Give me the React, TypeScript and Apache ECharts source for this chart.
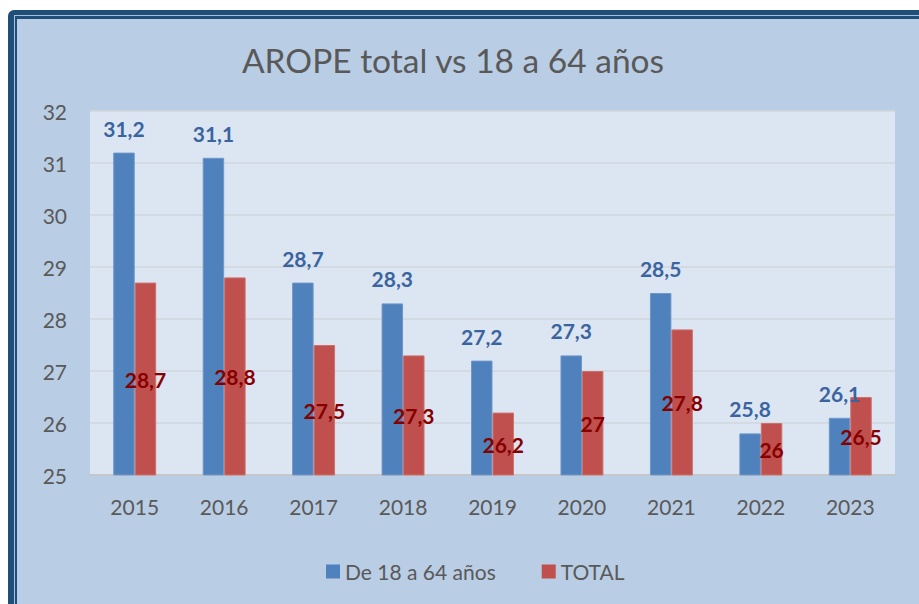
import React, { useEffect, useRef } from "react";
import * as echarts from "echarts";

const categories = ["2015", "2016", "2017", "2018", "2019", "2020", "2021", "2022", "2023"];
const adultValues = [31.2, 31.1, 28.7, 28.3, 27.2, 27.3, 28.5, 25.8, 26.1];
const totalValues = [28.7, 28.8, 27.5, 27.3, 26.2, 27, 27.8, 26, 26.5];
const seriesNames = ["De 18 a 64 años", "TOTAL"];
const titleText = "AROPE total vs 18 a 64 años";

const FONT = "Lato, 'Open Sans', sans-serif";
const fmt = (v: number) => String(v).replace(".", ",");

export default function App() {
  const ref = useRef<HTMLDivElement>(null);
  useEffect(() => {
    if (!ref.current) return;
    const chart = echarts.init(ref.current, undefined, { renderer: "svg" });
    chart.setOption({
      animation: false,
      backgroundColor: "transparent",
      textStyle: { fontFamily: FONT },
      graphic: [
        {
          type: "text",
          x: 453,
          y: 60,
          style: {
            text: titleText,
            fontFamily: FONT,
            fontSize: 33.5,
            fill: "#595959",
            textAlign: "center",
            textVerticalAlign: "middle",
          },
        },
      ],
      grid: {
        left: 90,
        right: 24,
        top: 111,
        bottom: 129,
        show: true,
        backgroundColor: "#DCE6F2",
        borderWidth: 0,
      },
      legend: {
        left: 326,
        top: 561,
        padding: 0,
        itemWidth: 14,
        itemHeight: 14,
        itemGap: 46,
        icon: "rect",
        itemStyle: { borderWidth: 0 },
        textStyle: { fontSize: 21, color: "#595959", fontFamily: FONT },
        data: seriesNames,
      },
      xAxis: {
        type: "category",
        data: categories,
        axisTick: { show: false },
        axisLine: { show: true, lineStyle: { color: "#C4C8CD", width: 2 } },
        axisLabel: { fontSize: 21, color: "#595959", margin: 21, fontFamily: FONT },
      },
      yAxis: {
        type: "value",
        min: 25,
        max: 32,
        interval: 1,
        axisLine: { show: false },
        axisTick: { show: false },
        axisLabel: { fontSize: 21, color: "#595959", margin: 23, fontFamily: FONT },
        splitLine: { lineStyle: { color: "#D2D6DC", width: 1.5 } },
      },
      series: [
        {
          name: seriesNames[0],
          type: "bar",
          data: adultValues,
          barGap: "0%",
          barCategoryGap: "52%",
          itemStyle: { color: "#4F81BD", borderColor: "#6E96C8", borderWidth: 1 },
          label: {
            show: true,
            position: "top",
            distance: 14,
            fontSize: 21,
            fontWeight: "bold",
            color: "#3A64A0",
            fontFamily: FONT,
            formatter: (p: any) => fmt(p.value),
          },
        },
        {
          name: seriesNames[1],
          type: "bar",
          data: totalValues,
          barGap: "0%",
          barCategoryGap: "52%",
          itemStyle: { color: "#C0504D", borderColor: "#CD706D", borderWidth: 1 },
          label: {
            show: true,
            position: "inside",
            fontSize: 21,
            fontWeight: "bold",
            color: "#860000",
            fontFamily: FONT,
            formatter: (p: any) => fmt(p.value),
          },
        },
      ],
    });
    return () => chart.dispose();
  }, []);

  return (
    <div style={{ position: "fixed", left: 0, top: 0, width: 919, height: 604, background: "#FFFFFF", overflow: "hidden" }}>
      <div
        style={{
          position: "absolute",
          left: 8,
          top: 10,
          width: 940,
          height: 640,
          background: "#1F4E79",
          borderTopLeftRadius: 6,
        }}
      />
      <div style={{ position: "absolute", left: 14, top: 15, width: 940, height: 640, background: "#A9C0DD" }} />
      <div style={{ position: "absolute", left: 15, top: 16, width: 940, height: 640, background: "#1F4E79" }} />
      <div style={{ position: "absolute", left: 17, top: 18.5, width: 940, height: 640, background: "#B9CDE5" }} />
      <div ref={ref} style={{ position: "absolute", left: 0, top: 0, width: 919, height: 604 }} />
    </div>
  );
}
